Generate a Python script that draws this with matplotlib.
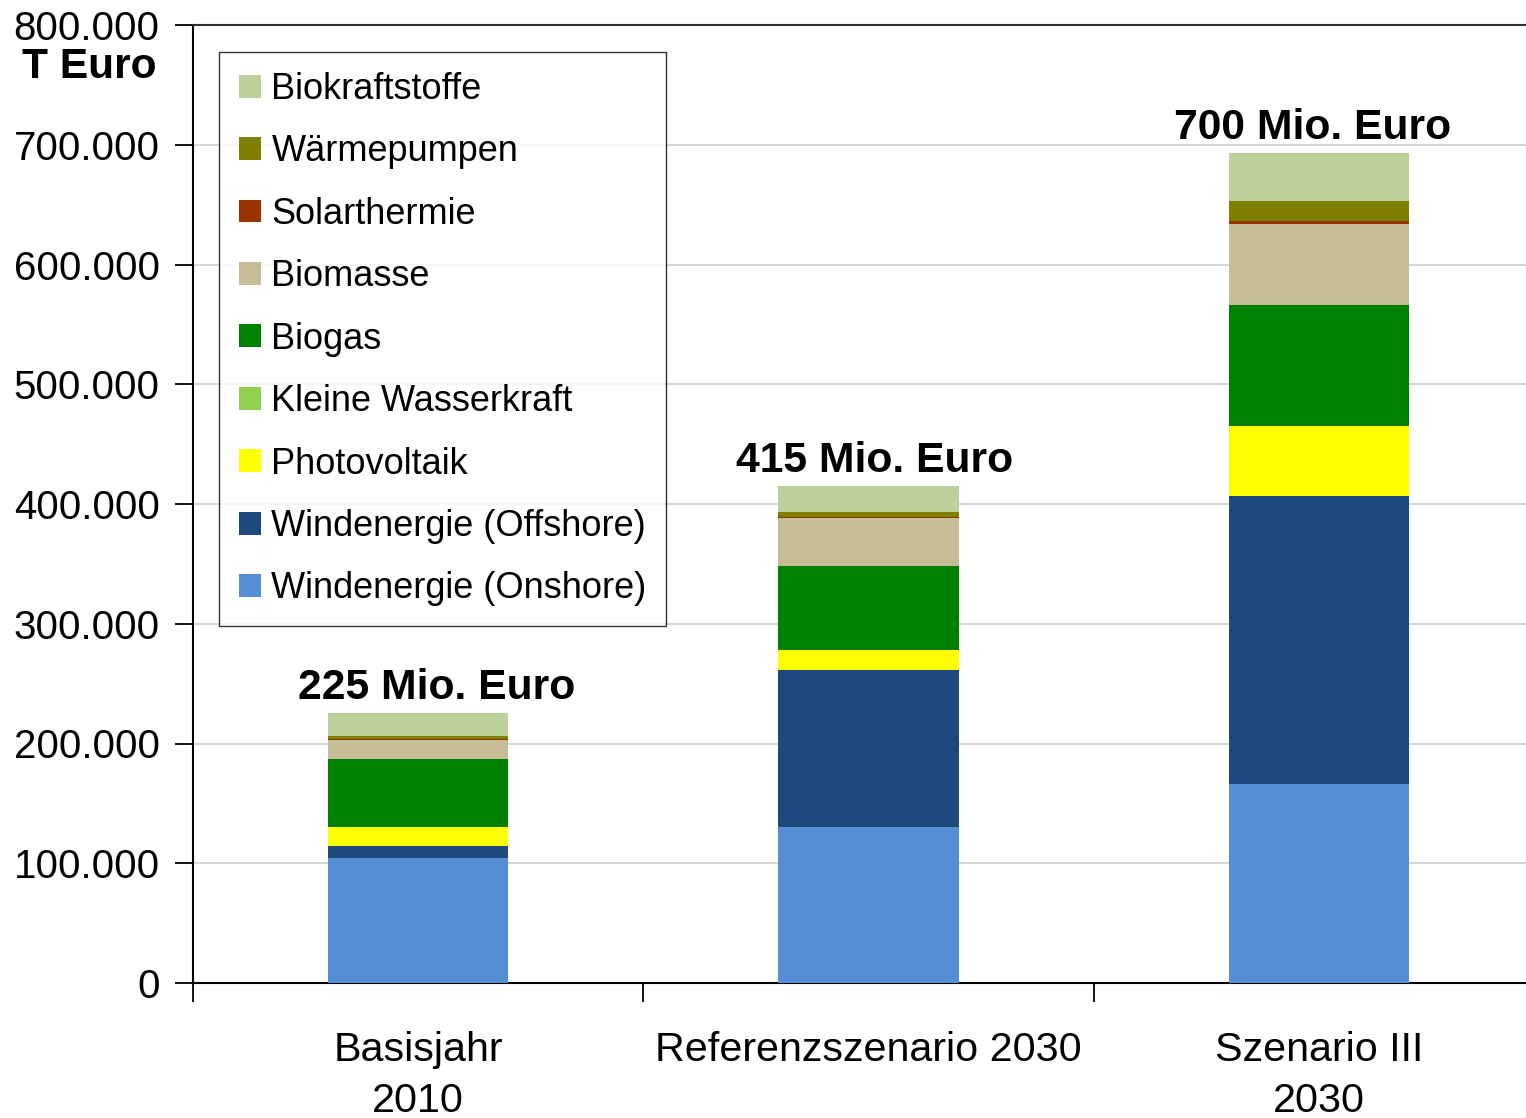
import matplotlib
matplotlib.use("Agg")
import matplotlib.pyplot as plt
import numpy as np

plt.rcParams['font.family'] = ['Liberation Sans', 'DejaVu Sans']

categories = ["Basisjahr\n2010", "Referenzszenario 2030", "Szenario III\n2030"]
series_names = ["Windenergie (Onshore)", "Windenergie (Offshore)", "Photovoltaik",
                "Kleine Wasserkraft", "Biogas", "Biomasse", "Solarthermie",
                "Wärmepumpen", "Biokraftstoffe"]
onshore = [104400, 130300, 166200]
offshore = [10000, 131100, 240500]
photovoltaik = [15900, 16700, 58500]
wasserkraft = [300, 300, 300]
biogas = [56800, 70100, 101000]
biomasse = [15900, 40100, 67600]
solarthermie = [500, 500, 2500]
waermepumpen = [2300, 4000, 16700]
biokraftstoffe = [19200, 21700, 40100]
totals_labels = ["225 Mio. Euro", "415 Mio. Euro", "700 Mio. Euro"]
y_ticks = [0, 100000, 200000, 300000, 400000, 500000, 600000, 700000, 800000]
y_tick_labels = ["0", "100.000", "200.000", "300.000", "400.000", "500.000",
                 "600.000", "700.000", "800.000"]

series = [onshore, offshore, photovoltaik, wasserkraft, biogas, biomasse,
          solarthermie, waermepumpen, biokraftstoffe]
colors = ["#558ED5", "#1F497D", "#FFFF00", "#92D050", "#008000", "#C4BD97",
          "#993300", "#808000", "#BBD09A"]
label_dx = [0.04, 0.013, -0.013]

W, H = 1526, 1118
fig = plt.figure(figsize=(W / 100, H / 100), dpi=100)
ax = fig.add_axes([193 / W, 1 - 983 / H, (1526 - 193) / W, (983 - 25) / H])

x = np.arange(len(categories))
bottom = np.zeros(len(categories))
handles = []
for name, vals, c in zip(series_names, series, colors):
    b = ax.bar(x, vals, width=0.4, bottom=bottom, color=c, label=name,
               linewidth=0, zorder=3)
    handles.append(b)
    bottom += np.array(vals)

for xi, tot, lab, dx in zip(x, bottom, totals_labels, label_dx):
    ax.text(xi + dx, tot + 4000, lab, ha='center', va='bottom',
            fontsize=30.7, fontweight='bold')

ax.set_ylim(0, 800000)
ax.set_xlim(-0.5, 2.5 - 18 / 450)
ax.set_yticks(y_ticks)
ax.set_yticklabels(y_tick_labels, fontsize=29)
ax.yaxis.grid(True, color='#D0D0D0', linewidth=1.2, zorder=0)
ax.set_axisbelow(True)
ax.tick_params(axis='y', length=13, width=1.3, pad=11, direction='out')

ax.set_xticks([-0.5, 0.5, 1.5])
ax.set_xticklabels([])
ax.tick_params(axis='x', length=14, width=1.3, direction='out')
for xi, lab in zip(x, categories):
    ax.text(xi, -0.0497, lab, transform=ax.get_xaxis_transform(), ha='center',
            va='top', fontsize=29.7, linespacing=1.45)

for s in ['left', 'bottom']:
    ax.spines[s].set_linewidth(1.5)
    ax.spines[s].set_color('black')
ax.spines['top'].set_linewidth(1.5)
ax.spines['top'].set_color('#303030')
ax.spines['right'].set_visible(False)

fig.text(22 / W, 1 - 67 / H, "T Euro", fontsize=30.6, fontweight='bold',
         ha='left', va='center')

leg = ax.legend(handles[::-1], series_names[::-1], loc='upper left',
                bbox_to_anchor=(26 / 1333, 1 - 27 / 958), borderaxespad=0,
                fontsize=26, frameon=True, fancybox=False, edgecolor='black',
                handlelength=0.6, handleheight=0.6, handletextpad=0.3,
                labelspacing=0.76, borderpad=0.55)
leg.get_frame().set_linewidth(1.0)

fig.savefig("out.png", dpi=100)
